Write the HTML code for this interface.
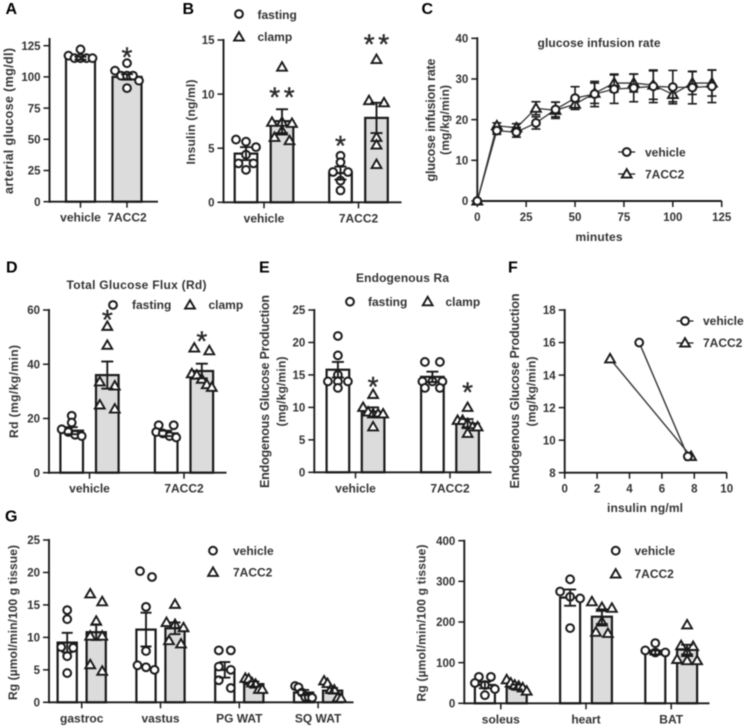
<!DOCTYPE html>
<html lang="en">
<head>
<meta charset="utf-8">
<title>Glucose metabolism figure panels</title>
<style>
html,body{margin:0;padding:0;background:#fff;}
#figure{display:block;width:748px;height:728px;filter:blur(0.55px);}
text{font-family:"Liberation Sans",Arial,sans-serif;font-weight:700;font-size:12px;fill:#333;}
.letter{font-size:16px;fill:#000;}
.tick{font-size:11.5px;}
.ytitle{font-size:12.5px;}
</style>
</head>
<body>
<svg id="figure" xmlns="http://www.w3.org/2000/svg" width="748" height="728" viewBox="0 0 748 728">
  <rect x="0" y="0" width="748" height="728" fill="#fff"/>

  <text class="letter" x="5.5" y="14">A</text>
  <text class="letter" x="182.5" y="14">B</text>
  <text class="letter" x="421.5" y="14">C</text>
  <text class="letter" x="6" y="272.5">D</text>
  <text class="letter" x="259" y="272.5">E</text>
  <text class="letter" x="508" y="272.5">F</text>
  <text class="letter" x="5" y="521.5">G</text>

  <text class="ytitle" transform="translate(13,121) rotate(-90)" text-anchor="middle" textLength="146" lengthAdjust="spacing">arterial glucose (mg/dl)</text>

  <text transform="translate(195,122) rotate(-90)" text-anchor="middle" textLength="85" lengthAdjust="spacing">Insulin (ng/ml)</text>
  <text x="257.5" y="19">fasting</text>
  <text x="257.5" y="41">clamp</text>

  <text x="599" y="47" text-anchor="middle" textLength="123" lengthAdjust="spacing">glucose infusion rate</text>
  <text class="ytitle" transform="translate(435,120) rotate(-90)" text-anchor="middle" textLength="123" lengthAdjust="spacing">glucose infusion rate</text>
  <text transform="translate(449,120) rotate(-90)" text-anchor="middle" textLength="70" lengthAdjust="spacing">(mg/kg/min)</text>
  <text x="599" y="241" text-anchor="middle" textLength="47" lengthAdjust="spacing">minutes</text>
  <text x="645" y="156.5">vehicle</text>
  <text x="645" y="178.5">7ACC2</text>

  <text x="136.5" y="289" text-anchor="middle" textLength="140" lengthAdjust="spacing">Total Glucose Flux  (Rd)</text>
  <text transform="translate(18,391.5) rotate(-90)" text-anchor="middle" textLength="93" lengthAdjust="spacing">Rd  (mg/kg/min)</text>
  <text x="132" y="309">fasting</text>
  <text x="208.5" y="309">clamp</text>

  <text x="402.5" y="282" text-anchor="middle" textLength="93" lengthAdjust="spacing">Endogenous Ra</text>
  <text class="ytitle" transform="translate(269,391.5) rotate(-90)" text-anchor="middle" textLength="193" lengthAdjust="spacing">Endogenous Glucose Production</text>
  <text transform="translate(285.5,391.5) rotate(-90)" text-anchor="middle" textLength="70" lengthAdjust="spacing">(mg/kg/min)</text>
  <text x="368" y="306">fasting</text>
  <text x="445.5" y="306">clamp</text>

  <text class="ytitle" transform="translate(519,391) rotate(-90)" text-anchor="middle" textLength="195" lengthAdjust="spacing">Endogenous Glucose Production</text>
  <text transform="translate(535.5,391.5) rotate(-90)" text-anchor="middle" textLength="70" lengthAdjust="spacing">(mg/kg/min)</text>
  <text x="645" y="512" text-anchor="middle" textLength="76" lengthAdjust="spacing">insulin ng/ml</text>
  <text x="703" y="325">vehicle</text>
  <text x="703" y="347">7ACC2</text>

  <text transform="translate(17,622.5) rotate(-90)" text-anchor="middle" textLength="155" lengthAdjust="spacing">Rg (µmol/min/100 g tissue)</text>
  <text x="233" y="555">vehicle</text>
  <text x="233" y="576.5">7ACC2</text>

  <text transform="translate(425.5,623) rotate(-90)" text-anchor="middle" textLength="157" lengthAdjust="spacing">Rg (µmol/min/100 g tissue)</text>
  <text x="634.5" y="555">vehicle</text>
  <text x="634.5" y="578">7ACC2</text>
</svg>

<script>
/* ---------- Panel A data ---------- */
const aCategories = ['vehicle', '7ACC2'];
const aYTicks = [0, 25, 50, 75, 100, 125];
const aMeans = [115, 100];
const aErrors = [1.2, 2.2];
const aPoints = [
  [122, 115, 115, 115, 115, 117],
  [111, 105, 101, 101, 101, 97, 91]
];
const aStarLevels = [null, 119];
const aStarLabels = ['', '*'];

/* ---------- Panel B data ---------- */
const bCategories = ['vehicle', '7ACC2'];
const bYTicks = [0, 5, 10, 15];
const bFastingMeans = [4.5, 2.7];
const bFastingErrors = [0.6, 0.6];
const bFastingPoints = [
  [5.8, 5.6, 5.1, 4.4, 3.6, 3.0, 3.6],
  [4.3, 3.7, 2.8, 2.8, 2.0, 1.1]
];
const bClampMeans = [7.5, 7.8];
const bClampErrors = [1.1, 1.4];
const bClampPoints = [
  [12.5, 7.4, 7.4, 7.3, 6.6, 6.0, 5.7],
  [13.2, 9.4, 9.2, 6.0, 5.3, 3.5]
];
const bFastingStarLevels = [null, 5.6];
const bFastingStarLabels = ['', '*'];
const bClampStarLevels = [10.1, 15];
const bClampStarLabels = ['**', '**'];

/* ---------- Panel C data ---------- */
const cMinutes = [0, 10, 20, 30, 40, 50, 60, 70, 80, 90, 100, 110, 120];
const cXTicks = [0, 25, 50, 75, 100, 125];
const cYTicks = [0, 10, 20, 30, 40];
const cVehicleValues = [0, 17.3, 16.9, 19.2, 22.5, 25.3, 26.3, 27.5, 27.8, 28.2, 28, 27.9, 28.2];
const cVehicleErrors = [0, 0.9, 1.2, 1.5, 1.8, 2.8, 3.1, 3.5, 3.4, 4, 4.1, 4, 4];
const cDrugValues = [0, 18.5, 18, 22.8, 22.3, 23.8, 26.5, 29, 29, 28.5, 26.2, 29, 29];
const cDrugErrors = [0, 0.7, 1, 1.6, 2, 0.8, 2.5, 2.2, 2.2, 3.5, 1.8, 2.8, 3.2];

/* ---------- Panel D data ---------- */
const dCategories = ['vehicle', '7ACC2'];
const dYTicks = [0, 20, 40, 60];
const dFastingMeans = [15.5, 14.5];
const dFastingErrors = [1.3, 1];
const dFastingPoints = [
  [21, 18.5, 16, 15, 14, 13.5],
  [17.5, 17.5, 15, 14.5, 13.5, 13]
];
const dClampMeans = [36, 37.5];
const dClampErrors = [5, 2.7];
const dClampPoints = [
  [54, 47, 33.5, 32, 25, 23.5],
  [46, 45, 36.5, 36, 34.5, 32.5, 31.5]
];
const dClampStarLevels = [58, 50];
const dClampStarLabels = ['*', '*'];

/* ---------- Panel E data ---------- */
const eCategories = ['vehicle', '7ACC2'];
const eYTicks = [0, 5, 10, 15, 20, 25];
const eFastingMeans = [15.8, 14.7];
const eFastingErrors = [1.2, 0.8];
const eFastingPoints = [
  [21, 18, 15, 14, 14, 14, 13],
  [17, 17, 14, 14, 14, 13, 13]
];
const eClampMeans = [9.3, 7.5];
const eClampErrors = [0.7, 0.7];
const eClampPoints = [
  [12, 10, 9.3, 9, 9, 9, 7],
  [10, 8, 8, 7.5, 7, 7, 6]
];
const eClampStarLevels = [13.8, 13];
const eClampStarLabels = ['*', '*'];

/* ---------- Panel F data ---------- */
const fXTicks = [0, 2, 4, 6, 8, 10];
const fYTicks = [8, 10, 12, 14, 16, 18];
const fVehicleInsulin = [4.6, 7.6];
const fVehicleProduction = [16, 9];
const fDrugInsulin = [2.8, 7.8];
const fDrugProduction = [15, 9];

/* ---------- Panel G (left) data ---------- */
const gLeftCategories = ['gastroc', 'vastus', 'PG WAT', 'SQ WAT'];
const gLeftYTicks = [0, 5, 10, 15, 20, 25];
const gLeftVehicleMeans = [9.2, 11.2, 5, 1.5];
const gLeftVehicleErrors = [1.5, 2.6, 1.2, 0.4];
const gLeftVehiclePoints = [
  [14.2, 12.8, 8.5, 8.4, 7.1, 4.5],
  [20.2, 19.3, 14.7, 7.9, 5.7, 5.4, 5],
  [8, 8, 5.5, 5, 3.4, 2.2],
  [2.5, 2.3, 1.5, 0.8, 0.8, 0.7]
];
const gLeftDrugMeans = [10.8, 11.4, 2.8, 1.8];
const gLeftDrugErrors = [1.2, 0.9, 0.4, 0.4];
const gLeftDrugPoints = [
  [16.7, 15.5, 12.5, 10.2, 10.2, 5.8, 4.8],
  [15.1, 12.3, 12, 11.5, 9.5, 9],
  [3.7, 3.6, 3, 2.8, 2, 2],
  [3.3, 2.9, 2, 1.9, 0.7, 0.6]
];

/* ---------- Panel G (right) data ---------- */
const gRightCategories = ['soleus', 'heart', 'BAT'];
const gRightYTicks = [0, 100, 200, 300, 400];
const gRightVehicleMeans = [45, 260, 125];
const gRightVehicleErrors = [8, 20, 5];
const gRightVehiclePoints = [
  [65, 65, 50, 45, 35, 20],
  [305, 275, 262, 258, 185],
  [148, 130, 125, 125]
];
const gRightDrugMeans = [40, 213, 132];
const gRightDrugErrors = [6, 18, 12];
const gRightDrugPoints = [
  [58, 50, 45, 42, 38, 30],
  [250, 236, 234, 200, 175, 172],
  [193, 142, 140, 125, 108, 105, 105]
];

/* ---------- Drawing helpers ---------- */
const SVG_NS = 'http://www.w3.org/2000/svg';
const figure = document.getElementById('figure');
const INK = '#1a1a1a';

function svgEl(tag, attrs, parent) {
  const el = document.createElementNS(SVG_NS, tag);
  for (const key in attrs) el.setAttribute(key, attrs[key]);
  (parent || figure).appendChild(el);
  return el;
}

function linearScale(d0, d1, r0, r1) {
  return function (v) { return r0 + (v - d0) / (d1 - d0) * (r1 - r0); };
}

function drawMarker(kind, x, y, parent) {
  if (kind === 'circle') {
    const c = svgEl('circle', { cx: x, cy: y, r: 3.9, fill: '#fff', stroke: INK, 'stroke-width': 2 }, parent);
    
    
    return c;
  }
  const pts = [[x, y - 4.9], [x + 4.9, y + 3.6], [x - 4.9, y + 3.6]].map(function (p) { return p.join(','); }).join(' ');
  const t = svgEl('polygon', { points: pts, fill: '#fff', stroke: INK, 'stroke-width': 1.9, 'stroke-linejoin': 'miter' }, parent);
  
  
  return t;
}

function drawYAxis(g, x, yTop, yBottom, ticks, yScale) {
  const axis = svgEl('line', { x1: x, x2: x, y1: yTop - 1, y2: yBottom + 1, stroke: INK, 'stroke-width': 1.9 }, g);
  
  
  ticks.forEach(function (t) {
    const y = yScale(t);
    const tick = svgEl('line', { x1: x - 6, x2: x, y1: y, y2: y, stroke: INK, 'stroke-width': 1.5 }, g);
    
    
    const label = svgEl('text', { x: x - 9, y: y + 4.2, 'text-anchor': 'end', class: 'tick' }, g);
    label.textContent = t;
    
    
  });
}

function drawXAxisLine(g, x0, x1, y) {
  const axis = svgEl('line', { x1: x0, x2: x1, y1: y, y2: y, stroke: INK, 'stroke-width': 1.9 }, g);
  
  
}

function drawXTick(g, x, y, text, cls) {
  const tick = svgEl('line', { x1: x, x2: x, y1: y, y2: y + 6, stroke: INK, 'stroke-width': 1.5 }, g);
  
  
  const label = svgEl('text', { x: x, y: y + 20, 'text-anchor': 'middle' }, g);
  if (cls) label.setAttribute('class', cls);
  label.textContent = text;
  
  
}

function drawErrorBar(g, x, yLow, yHigh, capHalf, width) {
  const stem = svgEl('line', { x1: x, x2: x, y1: yLow, y2: yHigh, stroke: INK, 'stroke-width': width }, g);
  
  
  [yLow, yHigh].forEach(function (y) {
    const cap = svgEl('line', { x1: x - capHalf, x2: x + capHalf, y1: y, y2: y, stroke: INK, 'stroke-width': width }, g);
    
    
  });
}

/* Prism-style scatter: nearby values share a row spread symmetrically about the bar centre. */
function scatterOffsets(values, yScale, span, binPx, maxSpacing) {
  const sorted = values.slice().sort(function (a, b) { return b - a; });
  const rows = [];
  sorted.forEach(function (v) {
    const last = rows[rows.length - 1];
    if (last && yScale(v) - yScale(last[last.length - 1]) < binPx) last.push(v);
    else rows.push([v]);
  });
  const placed = [];
  rows.forEach(function (row) {
    const spacing = row.length > 1 ? Math.min(maxSpacing, span / (row.length - 1)) : 0;
    row.forEach(function (v, i) {
      placed.push({ value: v, dx: (i - (row.length - 1) / 2) * spacing });
    });
  });
  return placed;
}

function drawStars(g, x, y, labelText) {
  const chars = labelText.split('');
  chars.forEach(function (ch, i) {
    const star = svgEl('text', {
      x: x + (i - (chars.length - 1) / 2) * 14.5,
      y: y + 13.5,
      'text-anchor': 'middle',
      style: 'font-size:28px;font-weight:400;fill:#2a2a2a;stroke:#2a2a2a;stroke-width:0.4'
    }, g);
    star.textContent = ch;
    
    
  });
}

function drawBarPanel(cfg) {
  const g = svgEl('g', {});
  
  
  const yScale = linearScale(0, cfg.yMax, cfg.yBottom, cfg.yTop);
  const groupX = function (i) { return cfg.groupStart + i * cfg.groupStep; };
  const binPx = cfg.binPx || 6;
  const maxSpacing = cfg.maxSpacing || 15;

  cfg.series.forEach(function (s) {
    s.means.forEach(function (mean, i) {
      const cx = groupX(i) + s.offset;
      const top = yScale(mean);
      const bar = svgEl('rect', {
        x: cx - cfg.barWidth / 2, y: top,
        width: cfg.barWidth, height: cfg.yBottom - top,
        fill: Array.isArray(s.fill) ? s.fill[i] : s.fill, stroke: INK, 'stroke-width': 2.2
      }, g);
      
      
    });
  });

  drawYAxis(g, cfg.xLeft, cfg.axisTop, cfg.yBottom, cfg.yTicks, yScale);
  drawXAxisLine(g, cfg.xLeft, cfg.xRight, cfg.yBottom);
  cfg.categories.forEach(function (c, i) {
    drawXTick(g, groupX(i), cfg.yBottom, c);
  });

  cfg.series.forEach(function (s) {
    s.points.forEach(function (values, i) {
      const cx = groupX(i) + s.offset;
      scatterOffsets(values, yScale, cfg.scatterSpan, binPx, maxSpacing).forEach(function (p) {
        drawMarker(s.marker, cx + p.dx, yScale(p.value), g);
      });
    });
    s.means.forEach(function (mean, i) {
      const cx = groupX(i) + s.offset;
      drawErrorBar(g, cx, yScale(mean - s.errors[i]), yScale(mean + s.errors[i]), cfg.capHalf, 1.9);
    });
    if (s.starLevels) {
      s.starLevels.forEach(function (level, i) {
        if (level !== null) drawStars(g, groupX(i) + s.offset, yScale(level), s.starLabels[i]);
      });
    }
  });
}

function drawLegendSwatch(kind, x, y, lineHalf) {
  if (lineHalf) {
    const l = svgEl('line', { x1: x - lineHalf, x2: x + lineHalf, y1: y, y2: y, stroke: INK, 'stroke-width': 1.2 });
    
    
  }
  drawMarker(kind, x, y);
}

/* ---------- Panels ---------- */
drawBarPanel({
  name: 'panel-a-arterial-glucose', xLeft: 49.5, xRight: 158, yBottom: 201.7, yTop: 45.7, axisTop: 39,
  yMax: 125, yTicks: aYTicks, categories: aCategories,
  groupStart: 80.5, groupStep: 46.5, barWidth: 29, scatterSpan: 24, capHalf: 6,
  series: [
    { marker: 'circle', fill: ['#fff', '#dcdcdc'], offset: 0, means: aMeans, errors: aErrors, points: aPoints, starLevels: aStarLevels, starLabels: aStarLabels }
  ]
});

drawBarPanel({
  name: 'panel-b-insulin', xLeft: 223.5, xRight: 401.5, yBottom: 202.3, yTop: 40, axisTop: 40,
  yMax: 15, yTicks: bYTicks, categories: bCategories,
  groupStart: 264, groupStep: 94.5, barWidth: 22.6, scatterSpan: 20, capHalf: 6,
  series: [
    { marker: 'circle', fill: '#fff', offset: -18, means: bFastingMeans, errors: bFastingErrors, points: bFastingPoints, starLevels: bFastingStarLevels, starLabels: bFastingStarLabels },
    { marker: 'triangle', fill: '#dcdcdc', offset: 18, means: bClampMeans, errors: bClampErrors, points: bClampPoints, starLevels: bClampStarLevels, starLabels: bClampStarLabels }
  ]
});

drawBarPanel({
  name: 'panel-d-total-glucose-flux', xLeft: 49, xRight: 226.5, yBottom: 472.7, yTop: 310, axisTop: 310,
  yMax: 60, yTicks: dYTicks, categories: dCategories,
  groupStart: 89.5, groupStep: 94.5, barWidth: 22.6, scatterSpan: 20, capHalf: 6,
  series: [
    { marker: 'circle', fill: '#fff', offset: -17.8, means: dFastingMeans, errors: dFastingErrors, points: dFastingPoints },
    { marker: 'triangle', fill: '#dcdcdc', offset: 17.8, means: dClampMeans, errors: dClampErrors, points: dClampPoints, starLevels: dClampStarLevels, starLabels: dClampStarLabels }
  ]
});

drawBarPanel({
  name: 'panel-e-endogenous-ra', xLeft: 314.3, xRight: 491.5, yBottom: 472.3, yTop: 310, axisTop: 310,
  yMax: 25, yTicks: eYTicks, categories: eCategories,
  groupStart: 355.5, groupStep: 94.5, barWidth: 22.6, scatterSpan: 20, capHalf: 6,
  series: [
    { marker: 'circle', fill: '#fff', offset: -17.6, means: eFastingMeans, errors: eFastingErrors, points: eFastingPoints },
    { marker: 'triangle', fill: '#dcdcdc', offset: 17.6, means: eClampMeans, errors: eClampErrors, points: eClampPoints, starLevels: eClampStarLevels, starLabels: eClampStarLabels }
  ]
});

drawBarPanel({
  name: 'panel-g-left-tissue-uptake', xLeft: 49, xRight: 353.5, yBottom: 702.3, yTop: 540, axisTop: 540,
  yMax: 25, yTicks: gLeftYTicks, categories: gLeftCategories,
  groupStart: 81.7, groupStep: 78.8, barWidth: 19.2, scatterSpan: 17, capHalf: 5.5, binPx: 8, maxSpacing: 12,
  series: [
    { marker: 'circle', fill: '#fff', offset: -14.5, means: gLeftVehicleMeans, errors: gLeftVehicleErrors, points: gLeftVehiclePoints },
    { marker: 'triangle', fill: '#dcdcdc', offset: 14.5, means: gLeftDrugMeans, errors: gLeftDrugErrors, points: gLeftDrugPoints }
  ]
});

drawBarPanel({
  name: 'panel-g-right-tissue-uptake', xLeft: 464.3, xRight: 709.5, yBottom: 703.3, yTop: 540.7, axisTop: 540.7,
  yMax: 400, yTicks: gRightYTicks, categories: gRightCategories,
  groupStart: 500.8, groupStep: 85.2, barWidth: 20, scatterSpan: 20, capHalf: 6, maxSpacing: 12,
  series: [
    { marker: 'circle', fill: '#fff', offset: -15.9, means: gRightVehicleMeans, errors: gRightVehicleErrors, points: gRightVehiclePoints },
    { marker: 'triangle', fill: '#dcdcdc', offset: 15.9, means: gRightDrugMeans, errors: gRightDrugErrors, points: gRightDrugPoints }
  ]
});

/* Panel C: time-course with error bars */
(function () {
  const g = svgEl('g', {});
  
  
  const xScale = linearScale(0, 125, 477.3, 721.7);
  const yScale = linearScale(0, 40, 201, 38.3);
  const toPath = function (xs, ys) {
    return xs.map(function (x, i) { return xScale(x) + ',' + yScale(ys[i]); }).join(' ');
  };
  drawYAxis(g, xScale(0), yScale(40), yScale(0), cYTicks, yScale);
  drawXAxisLine(g, xScale(0), xScale(125), yScale(0));
  cXTicks.forEach(function (t) { drawXTick(g, xScale(t), yScale(0), t, 'tick'); });

  const drugLine = svgEl('polyline', { points: toPath(cMinutes, cDrugValues), fill: 'none', stroke: '#333', 'stroke-width': 1.3 }, g);
  
  
  const vehicleLine = svgEl('polyline', { points: toPath(cMinutes, cVehicleValues), fill: 'none', stroke: '#333', 'stroke-width': 1.3 }, g);
  
  

  cMinutes.forEach(function (m, i) {
    drawErrorBar(g, xScale(m), yScale(cDrugValues[i] - cDrugErrors[i]), yScale(cDrugValues[i] + cDrugErrors[i]), 4.5, 1.6);
    drawMarker('triangle', xScale(m), yScale(cDrugValues[i]), g);
  });
  cMinutes.forEach(function (m, i) {
    drawErrorBar(g, xScale(m), yScale(cVehicleValues[i] - cVehicleErrors[i]), yScale(cVehicleValues[i] + cVehicleErrors[i]), 4.5, 1.6);
    drawMarker('circle', xScale(m), yScale(cVehicleValues[i]), g);
  });
})();

/* Panel F: production vs insulin */
(function () {
  const g = svgEl('g', {});
  
  
  const xScale = linearScale(0, 10, 564.7, 726.7);
  const yScale = linearScale(8, 18, 472.7, 310);
  drawYAxis(g, xScale(0), yScale(18), yScale(8), fYTicks, yScale);
  drawXAxisLine(g, xScale(0), xScale(10), yScale(8));
  fXTicks.forEach(function (t) { drawXTick(g, xScale(t), yScale(8), t, 'tick'); });

  const toPath = function (xs, ys) {
    return xs.map(function (x, i) { return xScale(x) + ',' + yScale(ys[i]); }).join(' ');
  };
  const drugLine = svgEl('polyline', { points: toPath(fDrugInsulin, fDrugProduction), fill: 'none', stroke: '#333', 'stroke-width': 1.4 }, g);
  
  
  const vehicleLine = svgEl('polyline', { points: toPath(fVehicleInsulin, fVehicleProduction), fill: 'none', stroke: '#333', 'stroke-width': 1.4 }, g);
  
  
  fDrugInsulin.forEach(function (x, i) { drawMarker('triangle', xScale(x), yScale(fDrugProduction[i]), g); });
  fVehicleInsulin.forEach(function (x, i) { drawMarker('circle', xScale(x), yScale(fVehicleProduction[i]), g); });
})();

/* Legend swatches */
drawLegendSwatch('circle', 239, 14);
drawLegendSwatch('triangle', 239, 37);
drawLegendSwatch('circle', 626.7, 152, 8.5);
drawLegendSwatch('triangle', 626.7, 174, 8.5);
drawLegendSwatch('circle', 113, 305);
drawLegendSwatch('triangle', 190, 305);
drawLegendSwatch('circle', 350, 301.7);
drawLegendSwatch('triangle', 427.7, 301.7);
drawLegendSwatch('circle', 685, 321, 8.5);
drawLegendSwatch('triangle', 685, 343, 8.5);
drawLegendSwatch('circle', 213, 550.7);
drawLegendSwatch('triangle', 213, 572.3);
drawLegendSwatch('circle', 615.7, 550.7);
drawLegendSwatch('triangle', 615.7, 574);
</script>
</body>
</html>
